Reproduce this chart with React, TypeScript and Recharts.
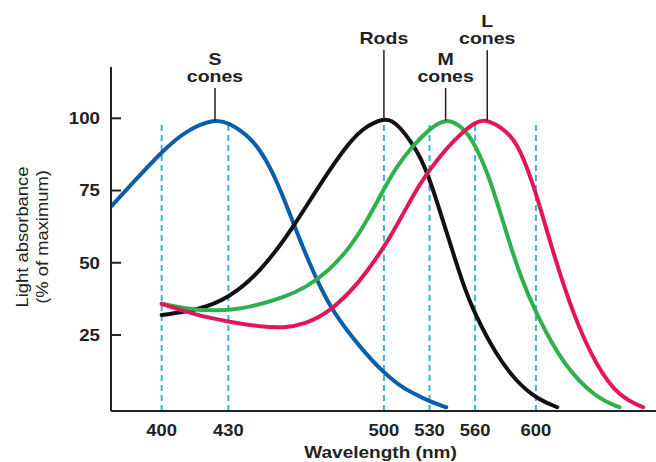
import {
  LineChart,
  Line,
  XAxis,
  YAxis,
  ReferenceLine,
  ReferenceDot,
  Label,
} from "recharts";

const xTicks = [400, 430, 500, 530, 560, 600];
const yTicks = [25, 50, 75, 100];

// absorbance curves (nm, % of maximum)
const sConeNm = [377.5, 388, 400, 411, 424, 430, 440, 447, 454, 461, 470, 477, 490, 500, 510.5, 520, 530, 541];
const sConeVal = [69.7, 78.5, 88.4, 95.9, 99.8, 98.6, 93.5, 86, 74.5, 60, 43.5, 33, 20, 11.9, 7.4, 4.6, 2, 0];

const rodNm = [400, 417, 430, 444, 459, 471, 485, 492, 500, 505, 510.5, 519, 524, 530, 535, 541, 552, 560, 574, 587, 600, 614];
const rodVal = [31.9, 33.7, 37.7, 46.4, 61.9, 77, 92.5, 97.3, 100, 99.2, 97, 91, 86.5, 79, 71, 61, 42.5, 32, 18, 9, 3.1, 0];

const mConeNm = [400, 410, 425, 440, 455, 465, 475, 485, 492, 500, 508, 519, 530, 540.6, 552, 560, 570, 581, 590, 600, 618, 640, 655];
const mConeVal = [35.8, 34.2, 33.1, 34.6, 38, 41.5, 47, 55.5, 64, 75.5, 83, 90.5, 96.3, 100.2, 97, 91, 79, 59.5, 45, 32.5, 14.5, 3, 0];

const lConeNm = [400, 415, 430, 445, 455, 465, 475, 485, 492, 500, 506, 512, 518, 524, 530, 541, 552, 560, 568, 585, 592, 600, 611, 624.5, 640, 655, 670.6];
const lConeVal = [35.8, 32, 29.6, 27.8, 27.4, 28.9, 32.8, 40, 46.5, 55.4, 60.7, 66.3, 72.1, 77.4, 82.1, 89.6, 95.3, 98.6, 100, 94, 86, 74.5, 54, 32, 14, 3.5, 0];

const peakLabels = [
  { lines: ["S", "cones"], nm: 424, top: 110.5 },
  { lines: ["Rods"], nm: 500, top: 123.6 },
  { lines: ["M", "cones"], nm: 540.6, top: 110.5 },
  { lines: ["L", "cones"], nm: 568, top: 123.6 },
];

const PEAK = 99.2;
const DASH_TOP = 98.4;
const Y_MIN = -1.3;
const Y_MAX = 117.75;

// the figure's wavelength axis is squeezed above 500 nm
const axisPos = (nm: number) => (nm <= 500 ? nm : 500 + (nm - 500) * 0.684);
const toPoints = (nm: number[], val: number[]) =>
  nm.map((w, i) => ({ x: axisPos(w), y: val[i] }));

const series = [
  { key: "s", data: toPoints(sConeNm, sConeVal), color: "#0b5ea8" },
  { key: "rods", data: toPoints(rodNm, rodVal), color: "#111111" },
  { key: "m", data: toPoints(mConeNm, mConeVal), color: "#2eb04b" },
  { key: "l", data: toPoints(lConeNm, lConeVal), color: "#e0185a" },
];

const FONT = "'Liberation Sans', Arial, sans-serif";
const Y_TICK_MARGIN = 11;

const YTick = (props: any) => {
  const { x, y, payload } = props;
  const axisX = x + Y_TICK_MARGIN;
  return (
    <g>
      <line x1={axisX} x2={axisX + 10} y1={y} y2={y} stroke="#222" strokeWidth={2} />
      <text
        transform={`translate(${x} ${y}) scale(1.17 1)`}
        dy="0.36em"
        textAnchor="end"
        fontFamily={FONT}
        fontWeight="bold"
        fontSize={16}
        fill="#222"
      >
        {payload.value}
      </text>
    </g>
  );
};

const XTick = (props: any) => {
  const { x, y, payload } = props;
  const nm = xTicks.find((w) => Math.abs(axisPos(w) - payload.value) < 0.01);
  return (
    <text
      transform={`translate(${x} ${y}) scale(1.15 1)`}
      dy="0.71em"
      textAnchor="middle"
      fontFamily={FONT}
      fontWeight="bold"
      fontSize={16}
      fill="#222"
    >
      {nm}
    </text>
  );
};

const YTitle = (props: any) => {
  const { x, y, height } = props.viewBox;
  const cy = y + height / 2 - 2;
  return (
    <g fontFamily={FONT} fontSize={17} fill="#222">
      <text transform={`translate(${x + 28} ${cy}) rotate(-90) scale(1.08 1)`} textAnchor="middle">
        Light absorbance
      </text>
      <text transform={`translate(${x + 48} ${cy}) rotate(-90) scale(1.08 1)`} textAnchor="middle">
        (% of maximum)
      </text>
    </g>
  );
};

const XTitle = (props: any) => {
  const { x, y, width } = props.viewBox;
  return (
    <text
      transform={`translate(${x + width / 2 - 3} ${y + 47}) scale(1.12 1)`}
      textAnchor="middle"
      fontFamily={FONT}
      fontWeight="bold"
      fontSize={17}
      fill="#222"
    >
      Wavelength (nm)
    </text>
  );
};

const peakText = (lines: string[]) => (props: any) => {
  const { cx, cy } = props;
  return (
    <g>
      {lines.map((t, i) => (
        <text
          key={t + i}
          transform={`translate(${cx} ${cy - 6 - (lines.length - 1 - i) * 17}) scale(1.22 1)`}
          textAnchor="middle"
          fontFamily={FONT}
          fontWeight="bold"
          fontSize={16}
          fill="#222"
        >
          {t}
        </text>
      ))}
    </g>
  );
};

export default function App() {
  return (
    <div style={{ position: "absolute", left: 0, top: 0, background: "#fff" }}>
      <LineChart width={656} height={462} margin={{ top: 67, right: 0, bottom: 0, left: 0 }}>
        <XAxis
          type="number"
          dataKey="x"
          domain={[axisPos(377.2), axisPos(679)]}
          allowDataOverflow
          ticks={xTicks.map(axisPos)}
          interval={0}
          tick={<XTick />}
          tickLine={false}
          tickSize={0}
          tickMargin={14}
          height={51}
          axisLine={{ stroke: "#222", strokeWidth: 2 }}
        >
          <Label content={<XTitle />} />
        </XAxis>
        <YAxis
          type="number"
          dataKey="y"
          domain={[Y_MIN, Y_MAX]}
          allowDataOverflow
          ticks={yTicks}
          interval={0}
          tick={<YTick />}
          tickLine={false}
          tickSize={0}
          tickMargin={Y_TICK_MARGIN}
          width={111}
          axisLine={{ stroke: "#222", strokeWidth: 2 }}
        >
          <Label content={<YTitle />} />
        </YAxis>

        {xTicks.map((w) => (
          <ReferenceLine
            key={"dash" + w}
            segment={[
              { x: axisPos(w), y: Y_MIN },
              { x: axisPos(w), y: DASH_TOP },
            ]}
            stroke="#3ab4cc"
            strokeWidth={2}
            strokeDasharray="6 4"
          />
        ))}

        {series.map((s) => (
          <Line
            key={s.key}
            data={s.data}
            dataKey="y"
            type="basis"
            stroke={s.color}
            strokeWidth={4}
            strokeLinecap="round"
            dot={false}
            activeDot={false}
            isAnimationActive={false}
          />
        ))}

        {peakLabels.map((p) => (
          <ReferenceLine
            key={"ptr" + p.nm}
            segment={[
              { x: axisPos(p.nm), y: PEAK },
              { x: axisPos(p.nm), y: p.top },
            ]}
            stroke="#222"
            strokeWidth={1.5}
            ifOverflow="visible"
          />
        ))}
        {peakLabels.map((p) => (
          <ReferenceDot
            key={"lbl" + p.nm}
            x={axisPos(p.nm)}
            y={p.top}
            r={0}
            ifOverflow="visible"
            shape={peakText(p.lines)}
          />
        ))}
      </LineChart>
    </div>
  );
}
